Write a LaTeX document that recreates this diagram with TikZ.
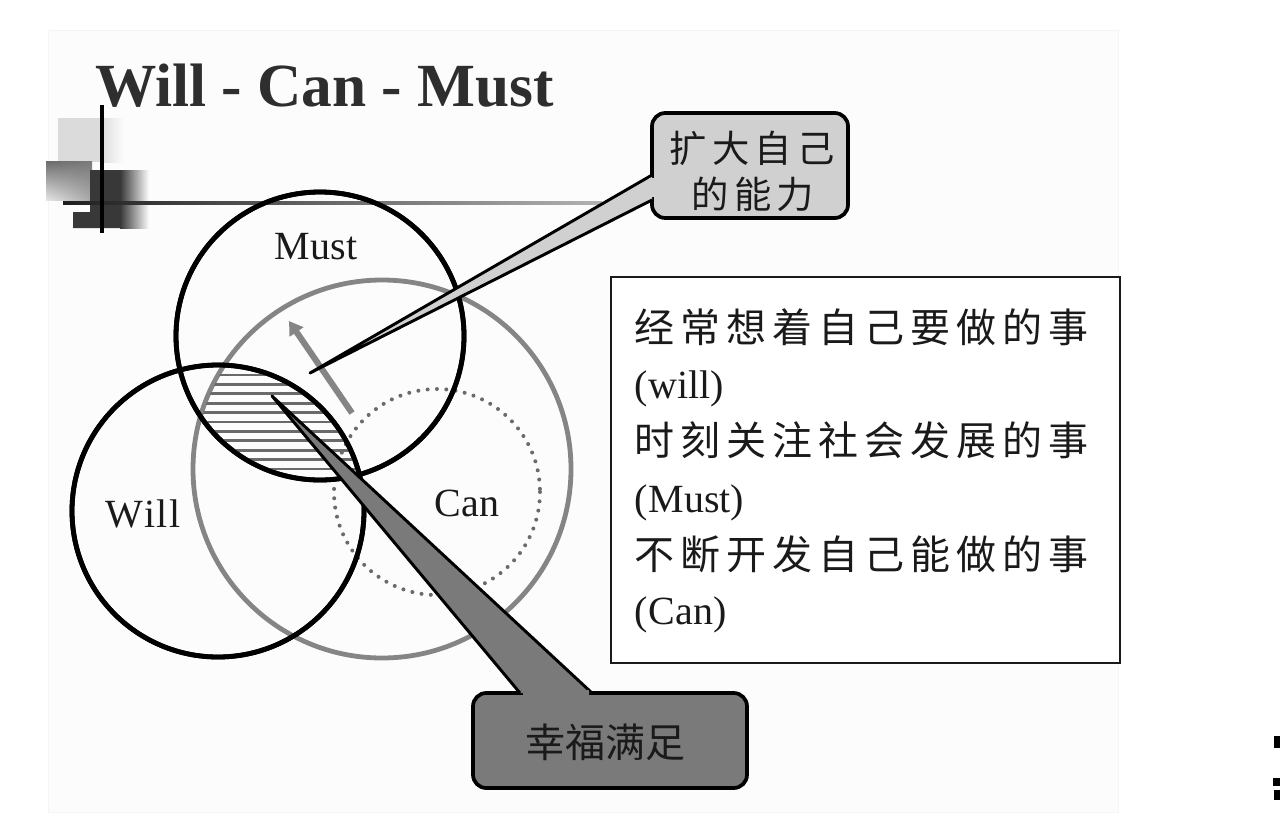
\documentclass[tikz,border=0pt]{standalone}
\usepackage{fontspec}
\setmainfont{Liberation Serif}
\newfontfamily\cjk{Noto Sans CJK SC}
\newfontfamily\cjkwide{Noto Sans CJK SC}[LetterSpace=15]
\newfontfamily\cjkmid{Noto Sans CJK SC}[LetterSpace=14]
\usetikzlibrary{arrows.meta,shadings}
\definecolor{callA}{HTML}{D0D0D0}
\definecolor{callB}{HTML}{7A7A7A}
\definecolor{ringgray}{HTML}{858585}
\definecolor{hatchgray}{HTML}{6A6A6A}
\definecolor{titlegray}{HTML}{2E2E2E}
\definecolor{inkblack}{HTML}{1A1A1A}
\tikzset{
  ring/.style={draw=black, line width=3.6pt},
  grayring/.style={draw=ringgray, line width=3.6pt},
  dotring/.style={draw=hatchgray, line width=3pt, line cap=round, dash pattern=on 0pt off 7pt},
  hatchline/.style={draw=hatchgray, line width=2.2pt},
  garrow/.style={draw=ringgray, line width=4.6pt, -{Triangle[length=10pt,width=12pt]}},
  wedgeedge/.style={draw=black, line width=2.2pt, line join=round},
  callbox/.style={draw=black, line width=2.8pt, rounded corners=10pt, inner sep=0pt},
  txt/.style={inner sep=0pt, outer sep=0pt, text=inkblack},
  lbl/.style={txt, font=\fontsize{30}{34}\selectfont},
  cjkline/.style={txt, anchor=base west, font=\cjkwide\fontsize{30}{34}\selectfont},
  latline/.style={txt, anchor=base west, font=\fontsize{30}{34}\selectfont},
}
\begin{document}
\begin{tikzpicture}[x=0.75pt,y=-0.75pt]
\useasboundingbox (0,0) rectangle (1280,822);
% faint slide background
\draw[draw=black!4, fill=black!1] (48,30) rectangle (1118,812);

% decoration top-left
\fill[black!14] (58,118) rectangle (100,162);
\shade[left color=black!14, right color=black!1] (100,118) rectangle (124,162);
\shade[upper left=black!58, upper right=black!52, lower left=black!10, lower right=black!35] (46,161) rectangle (92,200);
\fill[black!78] (90,170) -- (120,170) -- (120,228) -- (73,228) -- (73,212) -- (90,212) -- cycle;
\shade[left color=black!78, right color=black!1] (120,170) rectangle (149,228);
\shade[left color=black!88, right color=black!30] (63,201.3) rectangle (602,204.7);
\draw[black, line width=2.6pt] (102,105) -- (102,233);

% title
\node[txt, anchor=base west, text=titlegray, font=\bfseries\fontsize{46}{50}\selectfont] (title) at (95,106) {Will - Can - Must};

% circles
\coordinate (cMust) at (320,336);
\coordinate (cWill) at (218,511);
\coordinate (cCan) at (382,469);
\coordinate (cDot) at (437,492);
\draw[dotring] (cDot) circle (103);
\draw[grayring] (cCan) circle (189);
\draw[ring] (cMust) circle (144);
\draw[ring] (cWill) circle (146);

% hatched region: Will and Must and Can
\begin{scope}
  \clip (cWill) circle (144.5);
  \clip (cMust) circle (142.5);
  \clip (cCan) circle (187.5);
  \foreach \k in {0,...,10}
    \draw[hatchline] (150,{375+9.4*\k}) -- (430,{375+9.4*\k});
\end{scope}
% redraw black rings over the hatching
\draw[ring] (cMust) circle (144);
\draw[ring] (cWill) circle (146);

% gray arrow
\coordinate (arrTail) at (352,413);
\coordinate (arrHead) at (289,321);
\draw[garrow] (arrTail) -- (arrHead);

% circle labels
\node[lbl, anchor=base] (lMust) at (316,259) {Must};
\node[lbl, anchor=base] (lWill) at (143,527) {W\kern1pt i\kern1pt l\kern1pt l};
\node[lbl, anchor=base] (lCan) at (467,516) {Can};

% callout 1 (light)
\node[callbox, fill=callA, minimum width=147pt, minimum height=78.75pt] (cb1) at (750,165.5) {};
\coordinate (t1) at (310,373);
\coordinate (b1u) at (652,175);
\coordinate (b1l) at (652,200);
\fill[callA] (b1u) -- (t1) -- (b1l) -- cycle;
\draw[wedgeedge] (b1u) -- (t1) -- (b1l);
\fill[callA] (649,178) rectangle (656,197);
\node[txt, font=\cjkmid\fontsize{28}{30}\selectfont] (c1a) at (752,148) {扩大自己};
\node[txt, font=\cjkmid\fontsize{28}{30}\selectfont] (c1b) at (753,194) {的能力};

% callout 2 (dark)
\node[callbox, fill=callB, minimum width=205.5pt, minimum height=71.25pt] (cb2) at (610,740.5) {};
\coordinate (t2) at (272,396);
\coordinate (b2l) at (520,693);
\coordinate (b2r) at (592,693);
\fill[callB] (b2l) -- (t2) -- (b2r) -- cycle;
\draw[wedgeedge] (b2l) -- (t2) -- (b2r);
\fill[callB] (523,689.5) rectangle (589,697);
\node[txt, font=\cjk\fontsize{30}{34}\selectfont] (c2) at (605,742) {幸福满足};

% text box
\node[draw=inkblack, line width=1.3pt, fill=white, inner sep=0pt, minimum width=381.75pt, minimum height=289.5pt] (tb) at (865.5,470) {};
\node[cjkline] (L1) at (634,342) {经常想着自己要做的事};
\node[latline] (L2) at (634,398) {(\kern1pt will)};
\node[cjkline] (L3) at (634,455) {时刻关注社会发展的事};
\node[latline] (L4) at (634,512) {(\kern1pt Must)};
\node[cjkline] (L5) at (634,569) {不断开发自己能做的事};
\node[latline] (L6) at (634,624) {(\kern1pt Can)};

% cut-off marks at right edge
\fill[black] (1274,736) rectangle (1281,748);
\fill[black] (1273,778) rectangle (1281,786);
\fill[black] (1274,790) rectangle (1281,800);
\end{tikzpicture}
\end{document}
